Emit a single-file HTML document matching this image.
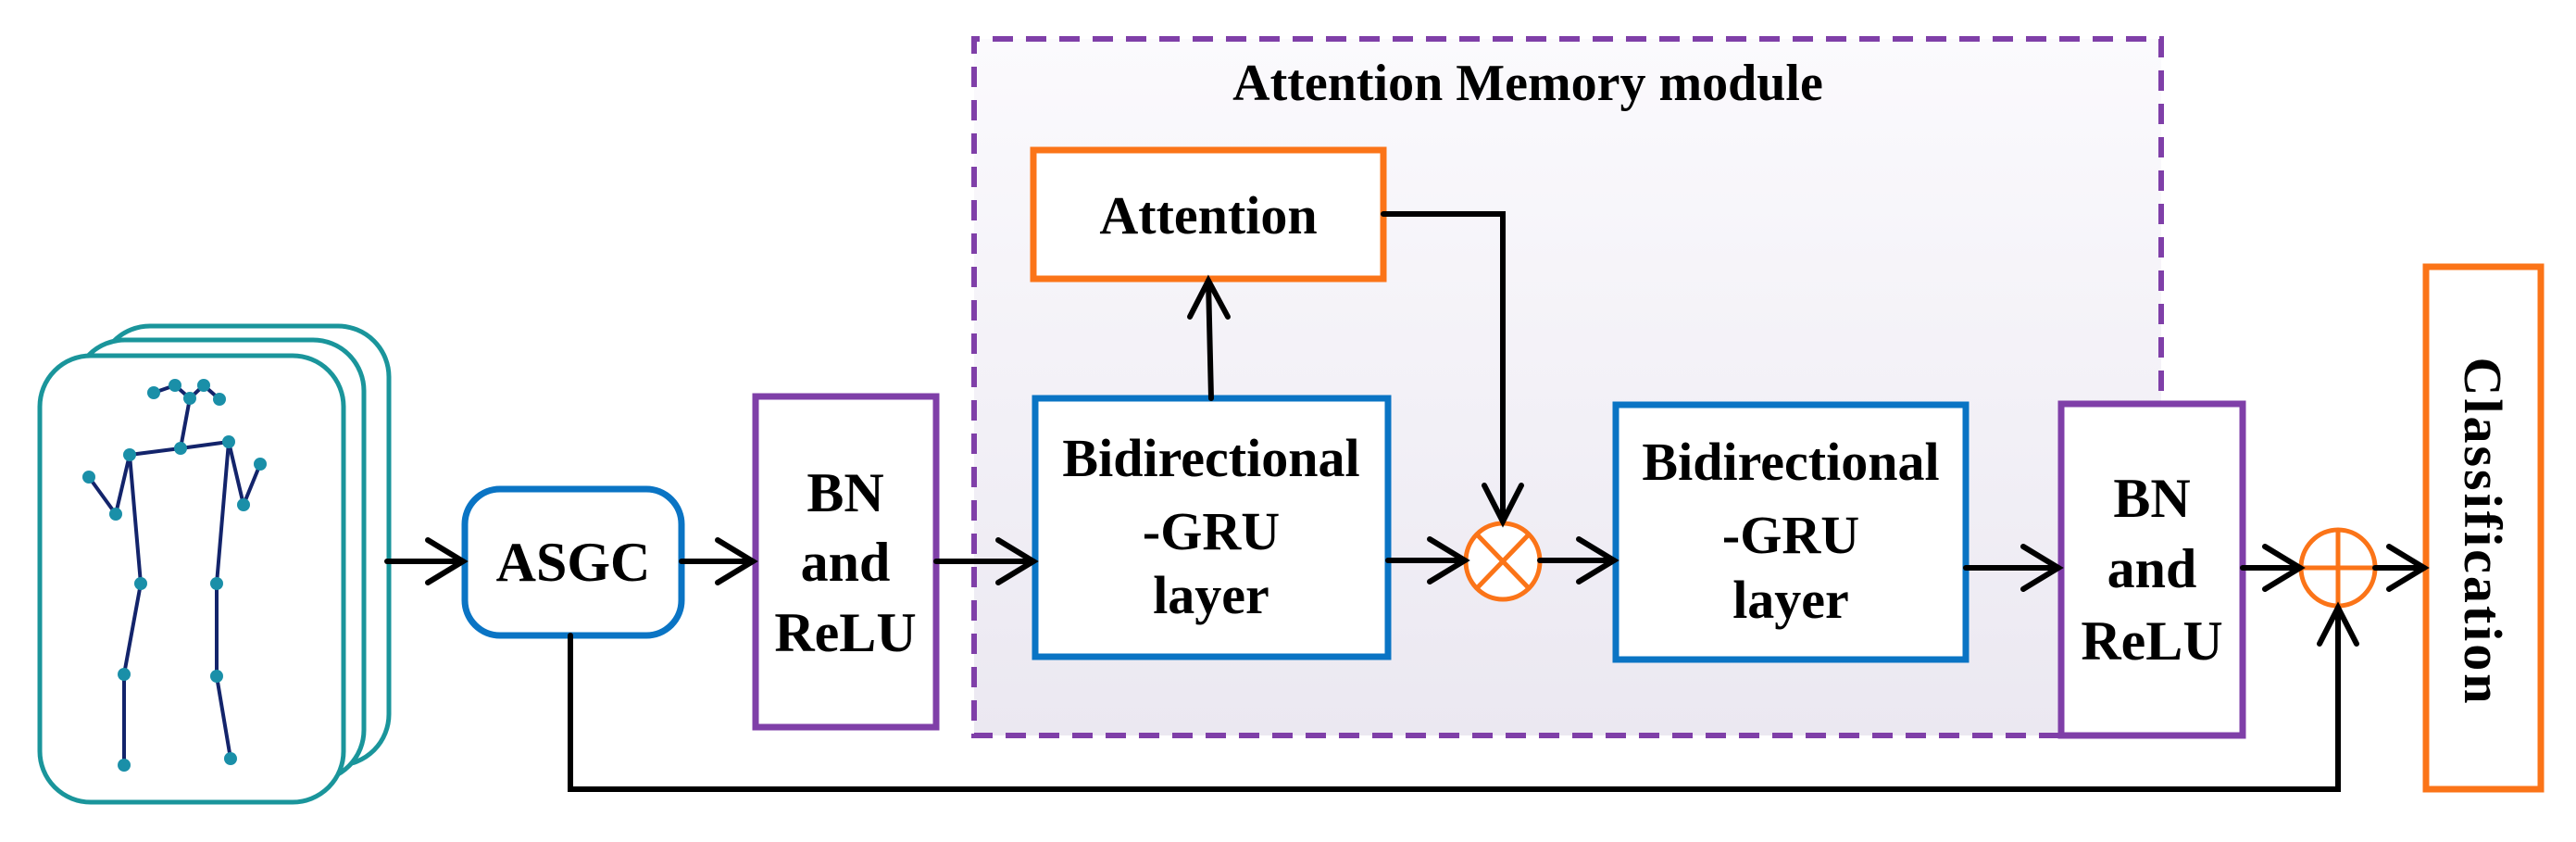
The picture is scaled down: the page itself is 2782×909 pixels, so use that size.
<!DOCTYPE html>
<html><head><meta charset="utf-8"><style>
html,body{margin:0;padding:0;background:#fff;}
svg{display:block;}
text{font-family:"Liberation Serif",serif;font-weight:bold;fill:#000;}
</style></head><body>
<svg width="2782" height="909" viewBox="0 0 2782 909" xmlns="http://www.w3.org/2000/svg">
<defs>
<linearGradient id="bg" x1="0" y1="0" x2="0" y2="1">
<stop offset="0" stop-color="#fbfafd"/><stop offset="1" stop-color="#ebe8f1"/>
</linearGradient>
</defs>
<!-- dashed module background -->
<rect x="1052" y="42" width="1282" height="752" fill="url(#bg)"/>
<path d="M2224 794 L1052 794 L1052 42 L2334 42 L2334 425" fill="none" stroke="#7f3fa8" stroke-width="6" stroke-dasharray="22 14"/>
<text x="1650" y="108" font-size="56" text-anchor="middle">Attention Memory  module</text>

<!-- stack frames -->
<g fill="#fff" stroke="#1a959b" stroke-width="5">
<rect x="107" y="352" width="313" height="474" rx="55"/>
<rect x="80" y="367" width="313" height="476" rx="55"/>
<rect x="43" y="384" width="328" height="482" rx="55"/>
</g>
<!-- skeleton -->
<g stroke="#13246b" stroke-width="4" fill="none" stroke-linejoin="round">
<polyline points="166,424 189,416 205,430 220,416 237,431"/>
<polyline points="205,430 195,484"/>
<polyline points="140,491 195,484 247,477"/>
<polyline points="140,491 125,555 96,515"/>
<polyline points="247,477 263,545 281,501"/>
<polyline points="140,491 152,630 134,728 134,826"/>
<polyline points="247,477 234,630 234,730 249,819"/>
</g>
<g fill="#1a8fa8">
<circle cx="166" cy="424" r="7"/><circle cx="189" cy="416" r="7"/><circle cx="205" cy="430" r="7"/><circle cx="220" cy="416" r="7"/><circle cx="237" cy="431" r="7"/>
<circle cx="195" cy="484" r="7"/><circle cx="140" cy="491" r="7"/><circle cx="247" cy="477" r="7"/>
<circle cx="125" cy="555" r="7"/><circle cx="96" cy="515" r="7"/><circle cx="263" cy="545" r="7"/><circle cx="281" cy="501" r="7"/>
<circle cx="152" cy="630" r="7"/><circle cx="234" cy="630" r="7"/><circle cx="134" cy="728" r="7"/><circle cx="234" cy="730" r="7"/>
<circle cx="134" cy="826" r="7"/><circle cx="249" cy="819" r="7"/>
</g>

<!-- boxes -->
<rect x="502" y="528" width="234" height="158" rx="38" fill="#fff" stroke="#0a74c4" stroke-width="7"/>
<text x="619" y="627" font-size="60" text-anchor="middle">ASGC</text>

<rect x="816" y="428" width="195" height="357" fill="#fff" stroke="#7f3fa8" stroke-width="7"/>
<text x="913" y="552" font-size="60" text-anchor="middle">BN</text>
<text x="913" y="627" font-size="60" text-anchor="middle">and</text>
<text x="913" y="703" font-size="60" text-anchor="middle">ReLU</text>

<rect x="1116" y="162" width="378" height="139" fill="#fff" stroke="#fb7418" stroke-width="7"/>
<text x="1305" y="252" font-size="58" text-anchor="middle">Attention</text>

<rect x="1118" y="430" width="381" height="279" fill="#fff" stroke="#0a74c4" stroke-width="7"/>
<text x="1308" y="514" font-size="58" text-anchor="middle">Bidirectional</text>
<text x="1308" y="593" font-size="58" text-anchor="middle">-GRU</text>
<text x="1308" y="662" font-size="58" text-anchor="middle">layer</text>

<rect x="1745" y="437" width="378" height="275" fill="#fff" stroke="#0a74c4" stroke-width="7"/>
<text x="1934" y="518" font-size="58" text-anchor="middle">Bidirectional</text>
<text x="1934" y="597" font-size="58" text-anchor="middle">-GRU</text>
<text x="1934" y="667" font-size="58" text-anchor="middle">layer</text>

<rect x="2226" y="436" width="196" height="358" fill="#fff" stroke="#7f3fa8" stroke-width="7"/>
<text x="2324" y="558" font-size="60" text-anchor="middle">BN</text>
<text x="2324" y="634" font-size="60" text-anchor="middle">and</text>
<text x="2324" y="712" font-size="60" text-anchor="middle">ReLU</text>

<rect x="2620" y="288" width="124" height="564" fill="#fff" stroke="#fb7418" stroke-width="7"/>
<text transform="translate(2662,574) rotate(90)" font-size="58" text-anchor="middle" letter-spacing="3">Classification</text>

<!-- circles -->
<g fill="#fff" stroke="#fb7418" stroke-width="5">
<ellipse cx="1623" cy="606" rx="40" ry="41"/>
<ellipse cx="2525" cy="613" rx="40" ry="41"/>
</g>
<g stroke="#fb7418" stroke-width="5">
<line x1="1595" y1="577" x2="1651" y2="635"/><line x1="1651" y1="577" x2="1595" y2="635"/>
<line x1="2485" y1="613" x2="2565" y2="613"/><line x1="2525" y1="572" x2="2525" y2="654"/>
</g>

<!-- connectors -->
<g stroke="#000" stroke-width="6" fill="none" stroke-linecap="round" stroke-linejoin="miter">
<line x1="418" y1="606" x2="500" y2="606"/><polyline points="462,583 500,606 462,629"/>
<line x1="736" y1="606" x2="813" y2="606"/><polyline points="775,583 813,606 775,629"/>
<line x1="1011" y1="606" x2="1116" y2="606"/><polyline points="1078,583 1116,606 1078,629"/>
<line x1="1308" y1="430" x2="1305" y2="303"/><polyline points="1285,342 1305,303 1326,342"/>
<polyline points="1494,231 1623,231 1623,563"/><polyline points="1603,524 1623,563 1643,524"/>
<line x1="1499" y1="605" x2="1582" y2="605"/><polyline points="1544,582 1582,605 1544,628"/>
<line x1="1663" y1="605" x2="1743" y2="605"/><polyline points="1705,582 1743,605 1705,628"/>
<line x1="2123" y1="613" x2="2223" y2="613"/><polyline points="2185,590 2223,613 2185,636"/>
<line x1="2422" y1="613" x2="2484" y2="613"/><polyline points="2446,590 2484,613 2446,636"/>
<line x1="2565" y1="613" x2="2618" y2="613"/><polyline points="2580,590 2618,613 2580,636"/>
<polyline points="616,686 616,852 2525,852 2525,656"/><polyline points="2505,695 2525,656 2545,695"/>
</g>
</svg>
</body></html>
